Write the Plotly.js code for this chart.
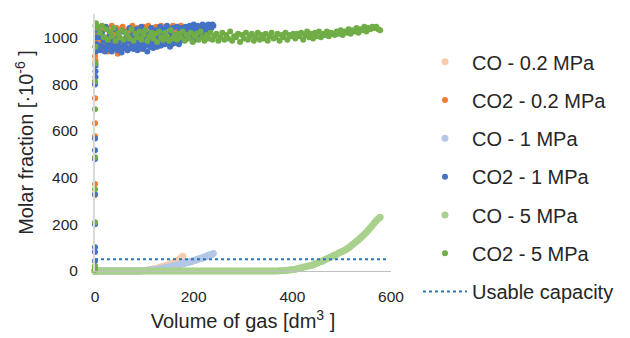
<!DOCTYPE html>
<html>
<head>
<meta charset="utf-8">
<script src="https://cdn.plot.ly/plotly-3.0.1.min.js"></script>
<style>html,body{margin:0;padding:0;background:#fff;}#chart{width:630px;height:338px;}</style>
</head>
<body>
<div id="chart"></div>
<script>
// Volume of gas [dm3] – 0.2 MPa experiment
const vol02 = [0,0,0,0,0,0,1,1,2,2,3,4,
6,8,10,12,14,16,18,20,22,24,26,28,30,32,34,36,38,40,42,44,46,48,50,52,54,56,58,60,62,64,66,68,70,72,74,76,78,80,82,84,86,88,
90,92,94,96,98,100,102,104,106,108,110,112,114,116,118,120,122,124,126,128,130,132,134,136,138,140,142,144,146,148,150,152,154,156,158,160,162,164,166,168,170,172,174,176,178];
const co02 = [0,0,0,0,0,0,0,0,0,0,0,0,
0,0,0,0,0,0,0,0,0,0,0,0,0,0,0,0,0,0,0,0,0,0,0,0,0,0,0,0,0,0,0,0,0,0,0,0,0,0,0,0,0,0,
0,0,1,1,1,2,2,3,3,4,5,5,6,7,8,9,10,11,12,13,14,15,16,18,19,20,21,23,24,26,27,29,31,32,34,36,38,41,43,46,48,51,55,59,63];
const co2_02 = [372,325,577,632,739,919,900,960,1010,980,1040,950,
960,1030,945,1010,985,1045,955,1000,975,1035,940,990,1020,965,1050,980,950,1015,995,1040,
930,1005,970,1030,955,1045,990,960,1025,1000,945,1035,980,1010,965,1050,995,955,1020,985,
1040,970,1005,950,1030,990,1045,965,1015,1000,975,1050,985,1020,960,1040,995,1010,970,1045,
1000,980,1035,965,1050,990,1025,1005,975,1045,1010,985,1040,1000,1030,970,1050,1015,995,1045,
1020,1005,1040,1010,1050,1030,1045];

// Volume of gas [dm3] – 1 MPa experiment
const vol1 = [0,0,0,0,0,0,0,0,0,1,1,1,2,2,3,4,
6,8,10,12,14,16,18,20,22,24,26,28,30,32,34,36,38,40,42,44,46,48,50,52,54,56,58,60,62,64,66,68,70,72,74,76,78,80,82,84,86,88,
90,92,94,96,98,100,102,104,106,108,110,112,114,116,118,120,122,124,126,128,130,132,134,136,138,140,142,144,146,148,150,152,154,156,158,160,162,164,166,168,170,172,174,176,178,180,182,184,186,188,190,192,194,196,198,200,202,204,206,208,210,212,214,216,218,220,222,224,226,228,230,232,234,236,238,240];
const co1 = [0,0,0,0,0,0,0,0,0,0,0,0,0,0,0,0,
0,0,0,0,0,0,0,0,0,0,0,0,0,0,0,0,0,0,0,0,0,0,0,0,0,0,0,0,0,0,0,0,0,0,0,0,0,0,0,0,0,0,
0,1,1,1,1,1,2,2,2,3,3,3,4,4,5,5,6,6,7,7,8,9,10,11,12,13,14,14,15,16,17,18,19,20,21,22,23,24,25,26,
27,28,29,30,31,32,33,35,36,37,38,39,40,42,43,44,45,47,48,50,51,52,54,55,57,58,60,61,63,65,66,68,70,71,73,75];
const co2_1 = [43,81,102,200,329,479,517,567,798,830,855,880,940,1000,970,1030,
950,1000,965,945,1020,960,985,940,1045,955,975,950,1010,965,940,990,960,1035,950,970,945,1000,960,985,935,1025,955,975,
960,1000,945,985,1040,955,970,1010,950,990,965,1035,945,980,1005,960,1045,975,950,995,965,1020,940,985,1000,960,1040,975,955,1010,
975,1030,960,1000,985,1045,965,1010,990,1035,970,1000,1050,980,1015,960,1030,995,1040,975,1010,990,1045,1000,970,1025,985,1040,1005,990,
1010,1045,995,1030,1015,1050,1000,1035,1020,1055,990,1040,1010,1050,1025,1000,1045,1030,1055,1015,1040,1025,1050,1035,1055,1020,1045,1040,1055,1050];

// Volume of gas [dm3] – 5 MPa experiment
const vol5 = [0,0,0,0,0,0,0,0,1,1,1,2,2,3,
6,10,14,18,22,26,30,34,38,42,46,50,54,58,62,66,70,74,78,82,
86,90,94,98,102,106,110,114,118,122,126,130,134,138,142,146,150,154,158,162,
166,170,174,178,182,186,190,194,198,202,206,210,214,218,222,226,230,234,238,242,
246,250,254,258,262,266,270,274,278,282,286,290,294,298,302,306,310,314,318,322,
326,330,334,338,342,346,350,354,358,362,366,370,374,378,382,386,390,394,398,402,
406,410,414,418,422,426,430,434,438,442,446,450,454,458,462,466,470,474,478,482,
486,490,494,498,502,506,510,514,518,522,526,530,534,538,542,546,550,554,558,562,
566,570,574,578];
const co5 = [0,0,0,0,0,0,0,0,0,0,0,0,0,0,
0,0,0,0,0,0,0,0,0,0,0,0,0,0,0,0,0,0,0,0,
0,0,0,0,0,0,0,0,0,0,0,0,0,0,0,0,0,0,0,0,
0,0,0,0,0,0,0,0,0,0,0,0,0,0,0,0,0,0,0,0,
0,0,0,0,0,0,0,0,0,0,0,0,0,0,0,0,0,0,0,0,
0,0,0,0,0,0,0,0,0,0,0,0,1,1,2,2,3,4,5,6,
8,10,12,14,16,18,20,22,24,27,30,33,37,40,44,48,52,56,60,64,
68,72,77,81,85,89,94,100,106,113,120,127,134,141,149,157,166,175,185,195,
205,215,224,230];
const co2_5 = [5,12,21,209,350,487,692,812,889,960,1050,1040,1060,1045,
1045,1020,1050,1000,1035,990,1025,1005,1040,985,1015,1000,1030,990,1020,1010,995,1035,985,1015,
1000,1025,990,1010,1030,985,1005,1020,995,1015,980,1025,1000,990,1020,1005,985,1030,995,1010,
990,1015,1000,1025,985,1010,995,1020,980,1005,1015,990,1025,1000,985,1010,995,1020,990,1005,
1015,985,1000,1020,990,1010,995,1025,985,1005,1000,1015,980,1010,995,1020,990,1005,1015,985,
1000,1020,990,1010,995,1015,985,1005,1020,995,1000,1015,985,1010,1000,1020,990,1010,1005,1015,
995,1015,1005,1020,990,1010,1025,1000,1015,995,1020,1005,1025,1000,1015,1010,1025,1005,1020,1015,
1010,1025,1015,1030,1010,1025,1020,1035,1015,1030,1025,1040,1020,1035,1030,1045,1025,1040,1035,1045,
1040,1045,1035,1030];

// Usable capacity limit
const capX = [0, 590];
const capY = [50, 50];

const names = ['CO - 0.2 MPa','CO2 - 0.2 MPa','CO - 1 MPa','CO2 - 1 MPa','CO - 5 MPa','CO2 - 5 MPa','Usable capacity'];
const colors = ['#F8CBAD','#ED7D31','#B4C7E7','#4472C4','#A9D18E','#70AD47','#2E75B6'];

function sc(x, y, i, size) {
  return {type:'scatter', mode:'markers', x:x, y:y, name:names[i], legendgroup:'g'+i,
    marker:{color:colors[i], size:size}, cliponaxis:false, hoverinfo:'skip'};
}
const data = [
  sc(vol02, co02, 0, 7),
  sc(vol02, co2_02, 1, 6),
  sc(vol1, co1, 2, 7),
  sc(vol1, co2_1, 3, 6),
  sc(vol5, co5, 4, 7),
  sc(vol5, co2_5, 5, 6),
  {type:'scatter', mode:'lines', x:capX, y:capY, name:names[6], legendgroup:'g6',
   line:{color:colors[6], width:2, dash:'dot'}, hoverinfo:'skip'}
];
const F = 'Liberation Sans, Arial, sans-serif';
const layout = {
  width:630, height:338,
  margin:{l:95, r:238, t:14, b:67},
  paper_bgcolor:'#fff', plot_bgcolor:'#fff',
  font:{family:F, color:'#404040'},
  showlegend:true,
  legend:{x:1.0875, xanchor:'left', y:0.89, yanchor:'top', font:{size:20, color:'#262626', family:F},
    tracegroupgap:9.3, itemwidth:44, maxheight:330, bgcolor:'rgba(0,0,0,0)'},
  xaxis:{range:[0,600], tickvals:[0,200,400,600], showgrid:false, zeroline:false,
    showline:true, linecolor:'#bfbfbf', linewidth:1, ticks:'outside', ticklen:11, tickcolor:'rgba(0,0,0,0)',
    tickfont:{size:15.5, color:'#262626'},
    title:{text:'Volume of gas [dm<sup>3</sup> ]', font:{size:20, color:'#262626'}, standoff:10}},
  yaxis:{range:[0,1100], tickvals:[0,200,400,600,800,1000], showgrid:false, zeroline:false,
    showline:true, linecolor:'#d9d9d9', linewidth:2, ticks:'outside', ticklen:12, tickcolor:'rgba(0,0,0,0)',
    tickfont:{size:15.5, color:'#262626'},
    title:{text:'Molar fraction [·10<sup>-6</sup> ]', font:{size:20, color:'#262626'}, standoff:4}}
};
Plotly.newPlot('chart', data, layout, {staticPlot:true, displayModeBar:false});
</script>
</body>
</html>
